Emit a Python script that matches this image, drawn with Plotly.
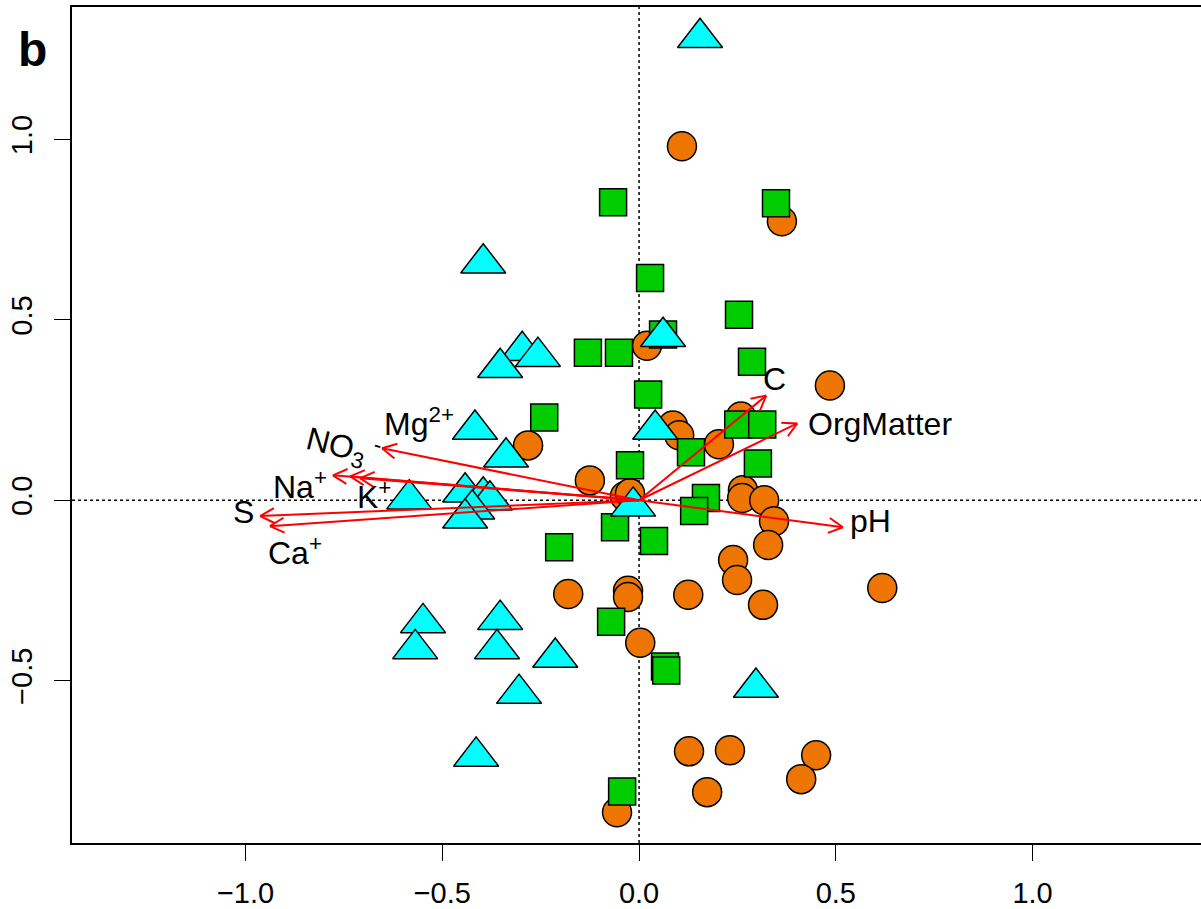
import numpy as np
import plotly.graph_objects as go

# ---------------- data ----------------
circle_x = [0.109, 0.363, 0.485, 0.020, -0.282, 0.086, 0.102, 0.203, 0.259, -0.125,
            -0.036, -0.023, 0.264, 0.262, 0.318, 0.343, 0.328, 0.239, 0.249, 0.315,
            0.125, 0.618, -0.180, -0.028, -0.028, 0.003, 0.127, 0.231, 0.173, 0.450,
            0.412, -0.056]
circle_y = [0.981, 0.773, 0.318, 0.428, 0.152, 0.207, 0.180, 0.155, 0.232, 0.055,
            0.011, 0.019, 0.028, 0.006, 0.000, -0.058, -0.124, -0.166, -0.221, -0.290,
            -0.262, -0.243, -0.260, -0.251, -0.268, -0.395, -0.696, -0.693, -0.809, -0.707,
            -0.773, -0.865]

square_x = [-0.066, 0.348, 0.028, 0.254, 0.287, -0.130, -0.051, 0.061, 0.023, -0.241,
            0.252, 0.313, 0.132, -0.023, 0.302, 0.170, 0.140, -0.061, 0.038, -0.203,
            -0.071, 0.066, 0.069, -0.043]
square_y = [0.826, 0.823, 0.616, 0.514, 0.384, 0.409, 0.409, 0.459, 0.293, 0.229,
            0.210, 0.210, 0.133, 0.097, 0.102, 0.006, -0.030, -0.075, -0.113, -0.130,
            -0.337, -0.461, -0.472, -0.807]

tri_x = [0.155, -0.396, -0.297, -0.257, -0.353, -0.417, -0.338, -0.584, -0.442, -0.396,
         -0.379, -0.424, -0.442, -0.015, 0.041, 0.061, -0.549, -0.569, -0.353, -0.361,
         -0.213, -0.305, -0.414, 0.297]
tri_y = [1.282, 0.657, 0.414, 0.398, 0.367, 0.196, 0.119, 0.003, 0.022, 0.011,
         0.000, -0.025, -0.050, -0.017, 0.196, 0.453, -0.340, -0.412, -0.331, -0.412,
         -0.436, -0.536, -0.710, -0.519]

vec_names = ["C", "OrgMatter", "pH", "NO<sub>3</sub><sup> -</sup>", "Na<sup>+</sup>",
             "Mg<sup>2+</sup>", "K<sup>+</sup>", "S", "Ca<sup>+</sup>"]
vec_x = [0.323, 0.402, 0.518, -0.653, -0.778, -0.734, -0.709, -0.963, -0.938]
vec_y = [0.290, 0.213, -0.075, 0.144, 0.069, 0.066, 0.061, -0.044, -0.072]

label_x = [0.343, 0.424, 0.531, -0.752, -0.861, -0.559, -0.673, -1.006, -0.874]
label_y = [0.337, 0.210, -0.058, 0.149, 0.041, 0.218, 0.014, -0.033, -0.141]
label_anchor = ["center", "left", "left", "center", "center", "center", "center", "center", "center"]
label_angle = [0, 0, 0, 14, 0, 0, 0, 0, 0]

x_ticks = [-1.0, -0.5, 0.0, 0.5, 1.0]
y_ticks = [-0.5, 0.0, 0.5, 1.0]

# ---------------- layout geometry ----------------
W, H = 1201, 909
ML, MR, MT, MB = 72, 0, 7, 63
X_RANGE = [-1.441, 1.428]
Y_RANGE = [-0.950, 1.367]
pw, ph = W - ML - MR, H - MT - MB
sx = pw / (X_RANGE[1] - X_RANGE[0])
sy = ph / (Y_RANGE[1] - Y_RANGE[0])

ORANGE = "#EE7600"
GREEN = "#00CD00"
CYAN = "#00FFFF"
RED = "#FF0000"
FONT = "Liberation Sans, Arial, Helvetica, sans-serif"

fig = go.Figure()

fig.add_trace(go.Scatter(x=circle_x, y=circle_y, mode="markers",
                         marker=dict(symbol="circle", size=29, color=ORANGE,
                                     line=dict(color="black", width=1.5)),
                         showlegend=False, hoverinfo="skip"))
fig.add_trace(go.Scatter(x=square_x, y=square_y, mode="markers",
                         marker=dict(symbol="square", size=27, color=GREEN,
                                     line=dict(color="black", width=1.5)),
                         showlegend=False, hoverinfo="skip"))
fig.add_trace(go.Scatter(x=tri_x, y=tri_y, mode="markers",
                         marker=dict(symbol="triangle-up", size=39, color=CYAN,
                                     line=dict(color="black", width=1.5)),
                         showlegend=False, hoverinfo="skip"))

# arrows (shafts + open V heads computed in pixel space)
head_len = 16.0
head_ang = np.deg2rad(28)
ax_lines, ay_lines = [], []
for vx, vy in zip(vec_x, vec_y):
    ax_lines += [0, vx, None]
    ay_lines += [0, vy, None]
    dx, dy = vx * sx, vy * sy
    L = np.hypot(dx, dy)
    ux, uy = dx / L, dy / L
    for s in (1, -1):
        c, sn = np.cos(s * head_ang), np.sin(s * head_ang)
        rx = ux * c - uy * sn
        ry = ux * sn + uy * c
        hx = vx - head_len * rx / sx
        hy = vy - head_len * ry / sy
        ax_lines += [vx, hx, None]
        ay_lines += [vy, hy, None]
fig.add_trace(go.Scatter(x=ax_lines, y=ay_lines, mode="lines",
                         line=dict(color=RED, width=2), showlegend=False,
                         hoverinfo="skip"))

for name, lx, ly, anc, ang in zip(vec_names, label_x, label_y, label_anchor, label_angle):
    fig.add_annotation(x=lx, y=ly, xref="x", yref="y", text=name, showarrow=False,
                       xanchor=anc, yanchor="middle", textangle=ang,
                       font=dict(family=FONT, size=32, color="black"))

fig.add_annotation(x=(32 - ML) / pw, y=(MT + ph - 50) / ph, xref="paper", yref="paper",
                   text="<b>b</b>", showarrow=False, xanchor="center", yanchor="middle",
                   font=dict(family=FONT, size=48, color="black"))

# dotted zero lines
fig.add_shape(type="line", xref="x", yref="paper", x0=0, x1=0, y0=0, y1=1,
              line=dict(color="black", width=1.5, dash="dot"), layer="below")
fig.add_shape(type="line", xref="paper", yref="y", x0=0, x1=1, y0=0, y1=0,
              line=dict(color="black", width=1.5, dash="dot"), layer="below")

fig.update_layout(
    width=W, height=H,
    margin=dict(l=ML, r=MR, t=MT, b=MB, pad=0),
    paper_bgcolor="white", plot_bgcolor="white",
    font=dict(family=FONT, color="black"),
    xaxis=dict(range=X_RANGE, tickvals=x_ticks, ticktext=[f"{v:.1f}".replace("-", "\u2212") for v in x_ticks],
               showgrid=False, zeroline=False, showline=True, linecolor="black",
               linewidth=1.5, mirror=True, ticks="outside", ticklen=16, tickwidth=1.2,
               tickcolor="black", tickfont=dict(size=29, family=FONT),
               ticklabelstandoff=7),
    yaxis=dict(range=Y_RANGE, tickvals=y_ticks, ticktext=[f"{v:.1f}".replace("-", "\u2212") for v in y_ticks],
               showgrid=False, zeroline=False, showline=True, linecolor="black",
               linewidth=1.5, mirror=False, ticks="outside", ticklen=16, tickwidth=1.2,
               tickcolor="black", tickfont=dict(size=29, family=FONT), tickangle=-90,
               ticklabelstandoff=11),
)

fig.write_html("out.html")
